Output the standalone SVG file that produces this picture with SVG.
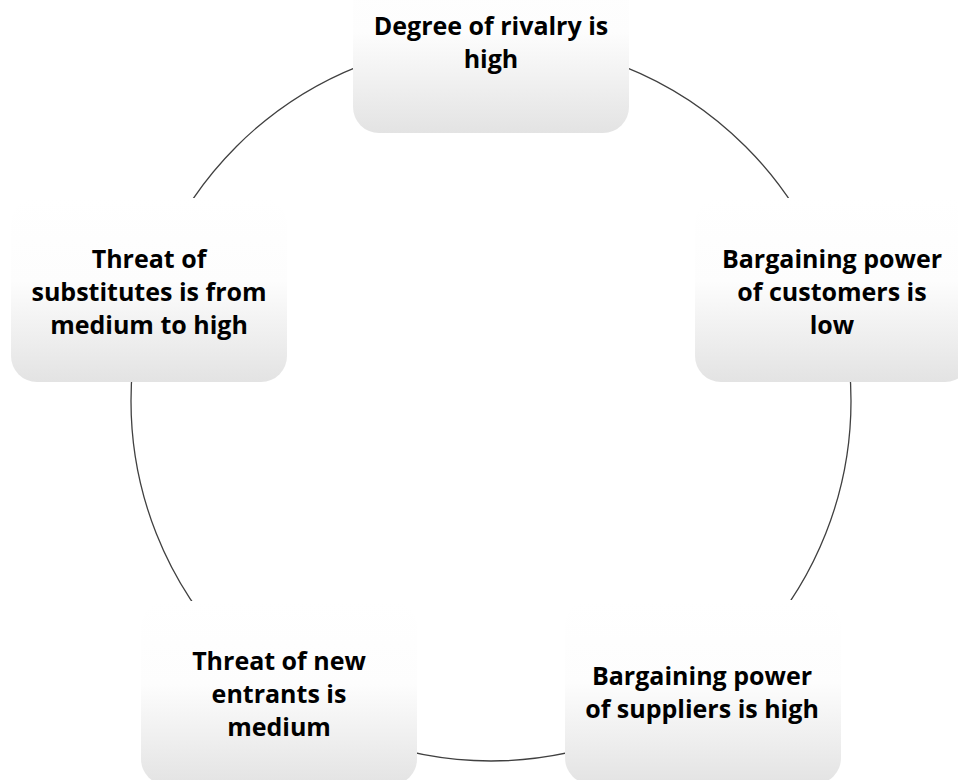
<svg xmlns="http://www.w3.org/2000/svg" width="958" height="780" viewBox="0 0 958 780">
<defs>
<linearGradient id="boxfill" x1="0" y1="0" x2="0" y2="1">
<stop offset="0" stop-color="#ffffff"/>
<stop offset="0.45" stop-color="#fdfdfd"/>
<stop offset="1" stop-color="#e3e3e3"/>
</linearGradient>
<style>
.box{fill:url(#boxfill);stroke:none}
.lbl{font-family:"Open Sans","Liberation Sans",sans-serif;font-weight:bold;font-size:25px;fill:#000;text-anchor:middle}
.ring{fill:none;stroke:#404040;stroke-width:1.3}
</style>
</defs>
<rect width="958" height="780" fill="#ffffff"/>
<g id="connectors">
<circle class="ring" cx="491" cy="401" r="360"/>
</g>
<g id="node-rivalry">
<rect class="box" x="353" y="-51" width="276" height="184" rx="26"/>
<text class="lbl" x="491" y="35">Degree of rivalry is</text>
<text class="lbl" x="491" y="68">high</text>
</g>
<g id="node-customers">
<rect class="box" x="695" y="198" width="276" height="184" rx="26"/>
<text class="lbl" x="832" y="268">Bargaining power</text>
<text class="lbl" x="832" y="301">of customers is</text>
<text class="lbl" x="832" y="334">low</text>
</g>
<g id="node-suppliers">
<rect class="box" x="565" y="600" width="276" height="184" rx="26"/>
<text class="lbl" x="702" y="685">Bargaining power</text>
<text class="lbl" x="702" y="718">of suppliers is high</text>
</g>
<g id="node-entrants">
<rect class="box" x="141" y="601" width="276" height="184" rx="26"/>
<text class="lbl" x="279" y="670">Threat of new</text>
<text class="lbl" x="279" y="703">entrants is</text>
<text class="lbl" x="279" y="736">medium</text>
</g>
<g id="node-substitutes">
<rect class="box" x="11" y="198" width="276" height="184" rx="26"/>
<text class="lbl" x="149" y="268">Threat of</text>
<text class="lbl" x="149" y="301">substitutes is from</text>
<text class="lbl" x="149" y="334">medium to high</text>
</g>
</svg>
